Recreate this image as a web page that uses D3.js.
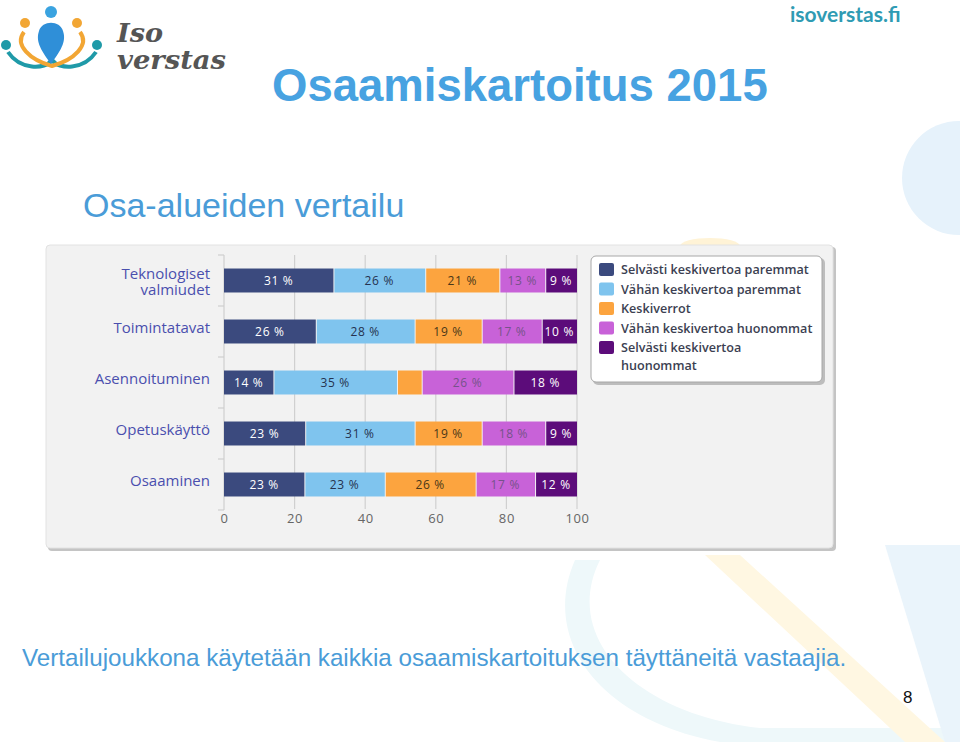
<!DOCTYPE html>
<html><head><meta charset="utf-8">
<script src="https://cdn.jsdelivr.net/npm/d3@7"></script>
<style>
html,body{margin:0;padding:0;background:#fff;}
svg{display:block;}
</style></head>
<body>
<svg id="c" width="960" height="742"></svg>
<script>
const categories = [["Teknologiset","valmiudet"],["Toimintatavat"],["Asennoituminen"],["Opetuskäyttö"],["Osaaminen"]];
const seriesNames = ["Selvästi keskivertoa paremmat","Vähän keskivertoa paremmat","Keskiverrot","Vähän keskivertoa huonommat","Selvästi keskivertoa huonommat"];
const selvastiParemmat = [31,26,14,23,23];
const vahanParemmat   = [26,28,35,31,23];
const keskiverrot     = [21,19,7,19,26];
const vahanHuonommat  = [13,17,26,18,17];
const selvastiHuonommat = [9,10,18,9,12];
const tickValues = [0,20,40,60,80,100];
const colors = ["#3b4a7e","#7fc4ee","#fca43f","#c862d8","#5c0c7a"];
const labelColors = ["#ffffff","#25324f","#4a3718","#76528a","#ffffff"];

const title = "Osaamiskartoitus 2015";
const subtitle = "Osa-alueiden vertailu";
const footer = "Vertailujoukkona käytetään kaikkia osaamiskartoituksen täyttäneitä vastaajia.";

const svg = d3.select("#c");

// ---- background decorations ----
const deco = svg.append("g");
deco.append("circle").attr("cx",959).attr("cy",178).attr("r",57).attr("fill","#e6f2fb");
deco.append("path").attr("d","M600,560 C560,640 640,715 760,728 L960,728 L960,742 L720,742 C600,720 540,640 575,560 Z").attr("fill","#eef8fa");
deco.append("path").attr("d","M705,555 L740,555 L945,742 L905,742 Z").attr("fill","#fff7e2");
deco.append("path").attr("d","M885,545 L960,545 L960,742 L945,742 Z").attr("fill","#eaf4fb");
deco.append("ellipse").attr("cx",710).attr("cy",246).attr("rx",30).attr("ry",8).attr("fill","#fff3d6");

// ---- logo ----
const logo = svg.append("g");
logo.append("path").attr("d","M8,52 C20,70 45,70 52,60 C59,70 84,70 96,52").attr("fill","none").attr("stroke","#1f9aa8").attr("stroke-width",4);
logo.append("path").attr("d","M24,32 C14,45 30,60 52,66 C74,60 90,45 80,32").attr("fill","none").attr("stroke","#f2a634").attr("stroke-width",4);
logo.append("path").attr("d","M51,64 C39,48 36,40 39,31 C42,20 60,20 63,31 C66,40 63,48 51,64 Z").attr("fill","#2f8fd8");
logo.append("circle").attr("cx",51).attr("cy",12).attr("r",6).attr("fill","#3aa3e0");
logo.append("circle").attr("cx",25).attr("cy",23).attr("r",5).attr("fill","#f2a634");
logo.append("circle").attr("cx",77).attr("cy",23).attr("r",5).attr("fill","#f2a634");
logo.append("circle").attr("cx",6).attr("cy",45).attr("r",5).attr("fill","#1f9aa8");
logo.append("circle").attr("cx",97).attr("cy",45).attr("r",5).attr("fill","#1f9aa8");
const lt = logo.append("text").attr("font-family","DejaVu Serif").attr("font-style","italic").attr("font-weight","bold")
  .attr("font-size",26).attr("fill","#555");
lt.append("tspan").attr("x",117).attr("y",42).attr("textLength",46).attr("lengthAdjust","spacingAndGlyphs").text("Iso");
lt.append("tspan").attr("x",117).attr("y",69).attr("textLength",109).attr("lengthAdjust","spacingAndGlyphs").text("verstas");

svg.append("text").attr("x",790).attr("y",22).text("isoverstas.fi")
  .attr("font-family","Lato").attr("font-weight","bold").attr("font-size",21).attr("fill","#2f9bb3");

// ---- titles ----
svg.append("text").attr("x",272).attr("y",101).text(title)
  .attr("font-family","Liberation Sans, Arial").attr("font-weight","bold").attr("font-size",45.5).attr("fill","#47a2e1");
svg.append("text").attr("x",83).attr("y",217).text(subtitle)
  .attr("font-family","Liberation Sans, Arial").attr("font-size",34).attr("fill","#4a9cd8");
svg.append("text").attr("x",22).attr("y",666).text(footer)
  .attr("font-family","Liberation Sans, Arial").attr("font-size",24.2).attr("fill","#4a9cd8");
svg.append("text").attr("x",903).attr("y",703).text("8")
  .attr("font-family","Liberation Sans, Arial").attr("font-size",17).attr("fill","#111");

// ---- chart panel ----
svg.append("rect").attr("x",48).attr("y",247).attr("width",788).attr("height",304).attr("rx",4).attr("fill","#c4c4c4");
svg.append("rect").attr("x",46).attr("y",245).attr("width",787).attr("height",303).attr("rx",4).attr("fill","#f2f2f2").attr("stroke","#e2e2e2");

const x = d3.scaleLinear().domain([0,100]).range([224,577]);
const catKeys = categories.map(c=>c.join(" "));
const y = d3.scaleBand().domain(catKeys).range([255,510]).paddingInner(0.53).paddingOuter(0.265);
const step = y.step();

// grid
svg.append("g").selectAll("line").data(tickValues.slice(1)).join("line")
  .attr("x1",d=>x(d)).attr("x2",d=>x(d)).attr("y1",255).attr("y2",509)
  .attr("stroke","#d0d0d0").attr("stroke-width",1.2);

// category axis line + ticks at boundaries
const boundaries = catKeys.map(k=>y(k) - (step - y.bandwidth())/2).concat([510]);
svg.append("line").attr("x1",x(0)).attr("x2",x(0)).attr("y1",255).attr("y2",510).attr("stroke","#cfcfcf").attr("stroke-width",1.2);
svg.append("g").selectAll("line").data(boundaries).join("line")
  .attr("x1",x(0)-6).attr("x2",x(0)).attr("y1",d=>d).attr("y2",d=>d).attr("stroke","#cfcfcf").attr("stroke-width",1.2);

// x axis labels
const xAxis = d3.axisBottom(x).tickValues(tickValues).tickSize(0).tickPadding(0);
const gx = svg.append("g").attr("transform","translate(0,513)").call(xAxis);
gx.select(".domain").remove();
gx.selectAll("text").attr("font-family","Open Sans").attr("font-size",13).attr("fill","#666").attr("dy","0.8em").attr("letter-spacing","0.6");

// category labels
const catG = svg.append("g");
categories.forEach((c,i)=>{
  const cy = y(catKeys[i]) + y.bandwidth()/2;
  const t = catG.append("text").attr("text-anchor","end").attr("x",210)
    .attr("font-family","Open Sans").attr("font-size",15).attr("fill","#4a4fae");
  const n = c.length;
  c.forEach((line,j)=>{
    t.append("tspan").attr("x",210).attr("y", n===1 ? cy + 1 : cy - 1.5 + j*16).text(line);
  });
});

// stacked bars
const rows = catKeys.map((k,i)=>({key:k, s0:selvastiParemmat[i], s1:vahanParemmat[i], s2:keskiverrot[i], s3:vahanHuonommat[i], s4:selvastiHuonommat[i]}));
const keys = ["s0","s1","s2","s3","s4"];
const stack = d3.stack().keys(keys).offset(d3.stackOffsetExpand);
const layers = stack(rows);
const barG = svg.append("g");
layers.forEach((layer,li)=>{
  const g = barG.append("g");
  g.selectAll("rect").data(layer).join("rect")
    .attr("x",d=>x(d[0]*100)+ (li>0?1:0))
    .attr("y",d=>y(d.data.key))
    .attr("width",d=>x(d[1]*100)-x(d[0]*100) - (li>0?1:0))
    .attr("height",y.bandwidth())
    .attr("fill",colors[li]);
  g.selectAll("text").data(layer.filter(d=>x(d[1]*100)-x(d[0]*100) > 28)).join("text")
    .attr("x",d=>(x(d[0]*100)+x(d[1]*100))/2)
    .attr("y",d=>y(d.data.key)+y.bandwidth()/2)
    .attr("dy","0.35em").attr("text-anchor","middle")
    .attr("font-family","Open Sans").attr("font-size",12).attr("letter-spacing","0.7")
    .attr("fill",labelColors[li])
    .text(d=>d.data[keys[li]] + " %");
});

// legend
const lg = svg.append("g");
lg.append("rect").attr("x",593).attr("y",258).attr("width",232).attr("height",127).attr("rx",5).attr("fill","#bdbdbd");
lg.append("rect").attr("x",591).attr("y",256).attr("width",231).attr("height",126).attr("rx",5).attr("fill","#fff").attr("stroke","#a8a8a8");
const legendRows = [[seriesNames[0]],[seriesNames[1]],[seriesNames[2]],[seriesNames[3]],["Selvästi keskivertoa","huonommat"]];
legendRows.forEach((lines,i)=>{
  const ly = 270 + i*19.5;
  lg.append("rect").attr("x",599).attr("y",ly-7).attr("width",15).attr("height",13).attr("rx",2).attr("fill",colors[i]);
  const t = lg.append("text").attr("font-family","Open Sans").attr("font-size",12.6).attr("font-weight","600").attr("fill","#3c3f52");
  lines.forEach((ln,j)=>{
    t.append("tspan").attr("x",621).attr("y",ly+4+j*18).text(ln);
  });
});
</script>
</body></html>
